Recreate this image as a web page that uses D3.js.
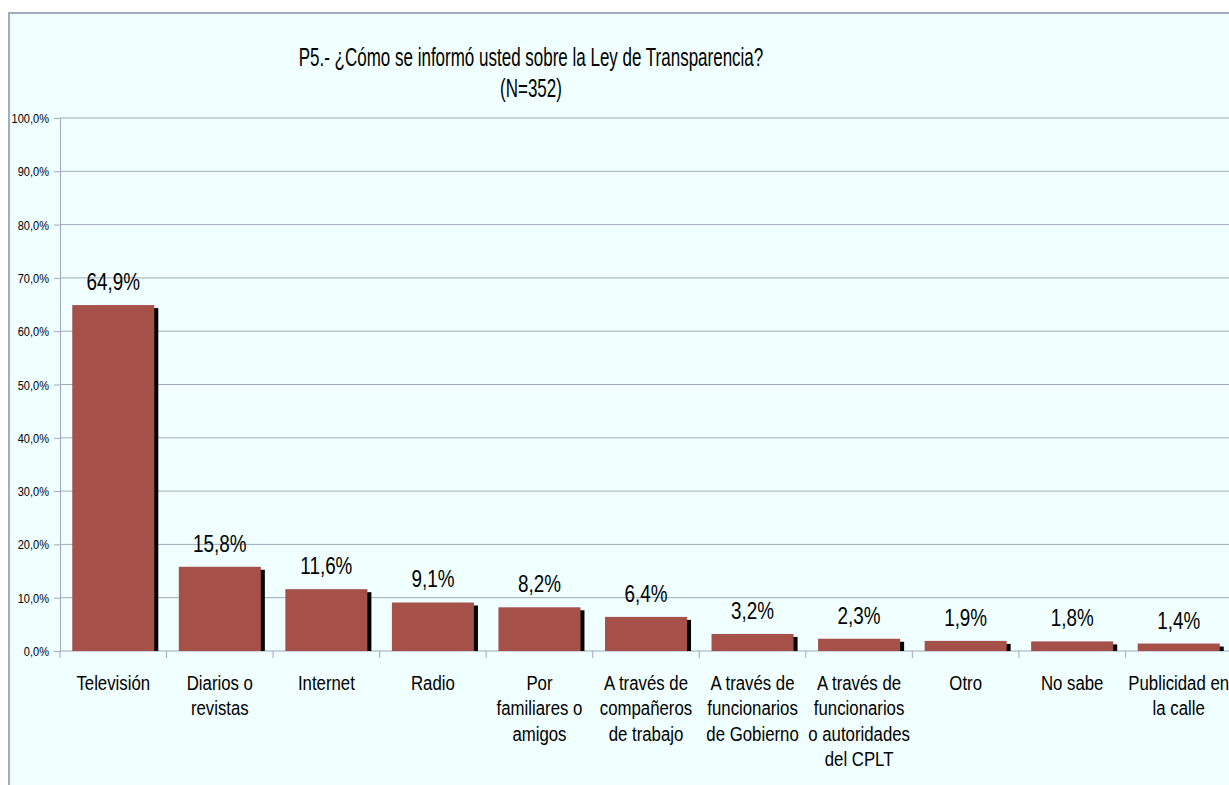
<!DOCTYPE html>
<html>
<head>
<meta charset="utf-8">
<script src="https://cdn.jsdelivr.net/npm/d3@7"></script>
<style>
  body { margin: 0; background: #fff; overflow: hidden; }
  svg text { font-family: "Liberation Sans Narrow", "Arial Narrow", "Liberation Sans", Arial, sans-serif; fill: #000; }
</style>
</head>
<body>
<div id="chart"></div>
<script>
const categories = [
  ["Televisión"],
  ["Diarios o", "revistas"],
  ["Internet"],
  ["Radio"],
  ["Por", "familiares o", "amigos"],
  ["A través de", "compañeros", "de trabajo"],
  ["A través de", "funcionarios", "de Gobierno"],
  ["A través de", "funcionarios", "o autoridades", "del CPLT"],
  ["Otro"],
  ["No sabe"],
  ["Publicidad en", "la calle"]
];
const values = [64.9, 15.8, 11.6, 9.1, 8.2, 6.4, 3.2, 2.3, 1.9, 1.8, 1.4];
const yTicks = [0, 10, 20, 30, 40, 50, 60, 70, 80, 90, 100];
const titleLines = ["P5.- ¿Cómo se informó usted sobre la Ley de Transparencia?", "(N=352)"];

let width = 1229,
    height = 785,
    margin = ({ top: 118, right: -3, bottom: 134, left: 60 });

// no narrow font installed, so squeeze the regular one horizontally
const narrow = 0.82;
const fmt = v => v.toFixed(1).replace(".", ",") + "%";

const svg = d3.select("#chart")
  .append("svg")
  .attr("width", width)
  .attr("height", height);

// chart area background + border (clipped at right/bottom like the original)
svg.append("rect")
  .attr("x", 9).attr("y", 13)
  .attr("width", width + 20).attr("height", height + 20)
  .attr("fill", "#f0ffff")
  .attr("stroke", "#a3acbf")
  .attr("stroke-width", 2);

let x = d3.scaleBand()
  .domain(d3.range(categories.length))
  .range([margin.left, width - margin.right])
  .paddingInner(0.23)
  .paddingOuter(0.115);

let xTickScale = d3.scaleLinear()
  .domain([0, categories.length])
  .range([margin.left, width - margin.right]);

let y = d3.scaleLinear()
  .domain([0, 100])
  .range([height - margin.bottom, margin.top]);

// gridlines
svg.append("g")
  .selectAll("line")
  .data(yTicks)
  .join("line")
  .attr("x1", margin.left)
  .attr("x2", width)
  .attr("y1", d => y(d))
  .attr("y2", d => y(d))
  .attr("stroke", "#a0a8bc");

// y axis
const yAxis = svg.append("g")
  .attr("transform", `translate(${margin.left},0)`)
  .call(d3.axisLeft(y).tickValues(yTicks).tickFormat(d => fmt(d)).tickSizeInner(6).tickSizeOuter(0));

yAxis.select(".domain").attr("stroke", "#a0a8bc");
yAxis.selectAll(".tick line").attr("stroke", "#a0a8bc");
yAxis.selectAll(".tick text")
  .attr("x", null)
  .attr("dy", "0.35em")
  .attr("transform", `translate(-11,0) scale(0.85,1)`)
  .style("font-size", "13px");

// x axis tick marks at category boundaries
svg.append("g")
  .selectAll("line")
  .data(d3.range(categories.length + 1))
  .join("line")
  .attr("x1", d => xTickScale(d))
  .attr("x2", d => xTickScale(d))
  .attr("y1", y(0))
  .attr("y2", y(0) + 7)
  .attr("stroke", "#a0a8bc");

// shadows then bars
svg.append("g")
  .selectAll("rect")
  .data(values)
  .join("rect")
  .attr("x", (d, i) => x(i) + 4)
  .attr("y", d => y(d) + 3)
  .attr("width", x.bandwidth())
  .attr("height", d => Math.max(0, y(0) - y(d) - 3))
  .attr("fill", "#000");

svg.append("g")
  .selectAll("rect")
  .data(values)
  .join("rect")
  .attr("x", (d, i) => x(i))
  .attr("y", d => y(d))
  .attr("width", x.bandwidth())
  .attr("height", d => y(0) - y(d))
  .attr("fill", "#a6504a");

// value labels
svg.append("g")
  .selectAll("text")
  .data(values)
  .join("text")
  .attr("transform", (d, i) => `translate(${x(i) + x.bandwidth() / 2},${y(d) - 15}) scale(${narrow},1)`)
  .attr("text-anchor", "middle")
  .style("font-size", "23px")
  .text(d => fmt(d));

// category labels
const cat = svg.append("g")
  .selectAll("text")
  .data(categories)
  .join("text")
  .attr("transform", (d, i) => `translate(${x(i) + x.bandwidth() / 2},690) scale(0.8,1)`)
  .attr("text-anchor", "middle")
  .style("font-size", "21px");

cat.selectAll("tspan")
  .data(d => d)
  .join("tspan")
  .attr("x", 0)
  .attr("dy", (d, j) => j === 0 ? 0 : 25.5)
  .text(d => d);

// title
svg.append("g")
  .selectAll("text")
  .data(titleLines)
  .join("text")
  .attr("transform", (d, i) => `translate(531,${66 + i * 31}) scale(0.68,1)`)
  .attr("text-anchor", "middle")
  .style("font-size", "25px")
  .text(d => d);
</script>
</body>
</html>
